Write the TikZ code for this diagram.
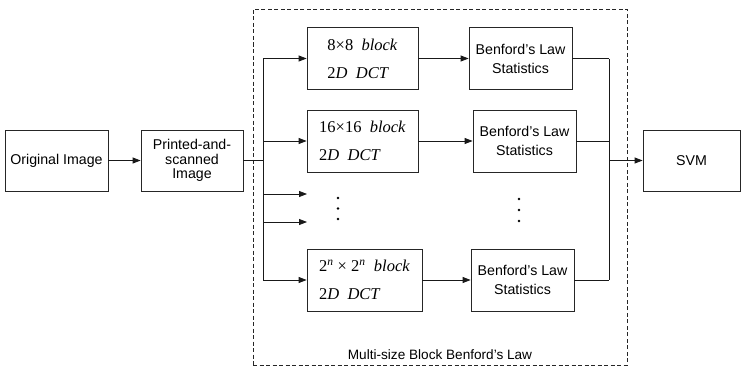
\documentclass[tikz,border=0pt]{standalone}
\usepackage{fontspec}
\setmainfont{Liberation Sans}
\newfontfamily\serifb{Liberation Serif}
\usetikzlibrary{arrows.meta}
\begin{document}
\begin{tikzpicture}[x=1pt,y=-1pt,
  box/.style={draw=black!85, line width=0.8pt, minimum height=61pt, inner sep=0pt,
    font=\fontsize{14.2}{19}\selectfont, align=center},
  dct/.style={box, minimum width=111pt, minimum height=62pt,
    font=\serifb\fontsize{16.5}{28}\selectfont, align=left},
  bl/.style={box, minimum width=103pt, minimum height=62pt},
  arr/.style={-{Triangle[length=8pt,width=6pt]}, line width=0.8pt, draw=black!90},
  ln/.style={line width=0.8pt, draw=black!90},
  dot/.style={circle, fill=black, inner sep=0pt, minimum size=2.6pt}]
\useasboundingbox (0,0) rectangle (741,367);
\fill[white] (0,0) rectangle (741,367);

% dashed group
\node[draw=black!85, dash pattern=on 4pt off 2.5pt, line width=0.7pt, minimum width=374pt,
  minimum height=356pt, inner sep=0pt] (grp) at (440,187) {};
\node[font=\fontsize{13.6}{16}\selectfont] (grplabel) at (440,355) {Multi-size Block Benford’s Law};

\node[box, minimum width=103pt] (orig) at (56.5,160.5) {Original Image};
\node[box, minimum width=102pt, font=\fontsize{14.2}{14.5}\selectfont] (print) at (192,160.5) {Printed-and-\\scanned\\Image};

\node[dct] (d1) at (362.5,58.5) {8×8\ \ \textit{block}\\2\textit{D\ \ DCT}};
\node[dct] (d2) at (362.5,141) {16×16\ \ \textit{block}\\2\textit{D\ \ DCT}};
\node[dct, minimum width=115pt] (d3) at (364.5,280) {2\textsuperscript{\textit{n}} × 2\textsuperscript{\textit{n}}\ \ \textit{block}\\2\textit{D\ \ DCT}};

\node[bl] (b1) at (520.5,58.5) {Benford’s Law\\Statistics};
\node[bl] (b2) at (524.5,141) {Benford’s Law\\Statistics};
\node[bl] (b3) at (522.5,280) {Benford’s Law\\Statistics};

\node[box, minimum width=97pt] (svm) at (691.5,160.5) {SVM};

% dots
\node[dot] (ld1) at (338,198) {};
\node[dot] (ld2) at (338,208.5) {};
\node[dot] (ld3) at (338,219) {};
\node[dot] (rd1) at (519,199) {};
\node[dot] (rd2) at (519,210) {};
\node[dot] (rd3) at (519,221) {};

% bus coordinates
\coordinate (lb1) at (263,58.5);
\coordinate (lb2) at (263,141);
\coordinate (lbm) at (263,160.5);
\coordinate (lb3) at (263,280);
\coordinate (la1) at (263,194);
\coordinate (la2) at (263,222);
\coordinate (le1) at (307,194);
\coordinate (le2) at (307,222);
\coordinate (rb1) at (609,58.5);
\coordinate (rb2) at (609,141);
\coordinate (rbm) at (609,160.5);
\coordinate (rb3) at (609,280);

\draw[arr] (orig) -- (print);
\draw[ln] (print.east) -- (lbm);
\draw[ln] (lb1) -- (lb3);
\draw[arr] (lb1) -- (d1.west);
\draw[arr] (lb2) -- (d2.west);
\draw[arr] (lb3) -- (d3.west);
\draw[arr] (la1) -- (le1);
\draw[arr] (la2) -- (le2);

\draw[arr] (d1) -- (b1);
\draw[arr] (d2) -- (b2);
\draw[arr] (d3) -- (b3);

\draw[ln] (b1.east) -- (rb1);
\draw[ln] (b2.east) -- (rb2);
\draw[ln] (b3.east) -- (rb3);
\draw[ln] (rb1) -- (rb3);
\draw[arr] (rbm) -- (svm.west);
\end{tikzpicture}
\end{document}
